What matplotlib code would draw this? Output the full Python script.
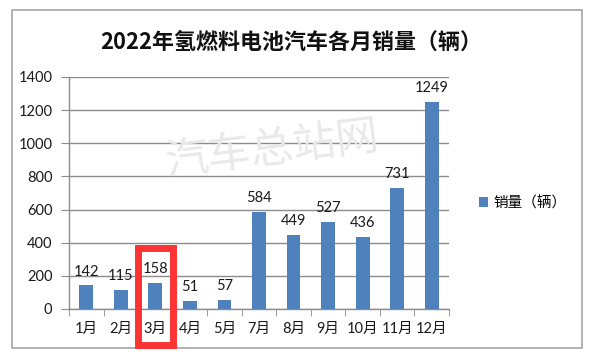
import matplotlib
matplotlib.use("Agg")
import matplotlib.pyplot as plt
from matplotlib.patches import Rectangle
import matplotlib.transforms as mtransforms

plt.rcParams['font.family'] = ['Lato', 'Noto Sans CJK SC', 'DejaVu Sans']

months = ["1月", "2月", "3月", "4月", "5月", "7月", "8月", "9月", "10月", "11月", "12月"]
sales = [142, 115, 158, 51, 57, 584, 449, 527, 436, 731, 1249]
yticks = [0, 200, 400, 600, 800, 1000, 1200, 1400]
title = "2022年氢燃料电池汽车各月销量（辆）"
series_name = "销量（辆）"
highlight = "3月"
watermark = "汽车总站网"

W, H = 600, 360
fig = plt.figure(figsize=(6, 3.6), dpi=100)
fig.patch.set_facecolor("white")

# outer border
fig.add_artist(Rectangle((12 / W, 1 - 348 / H), (582 - 12) / W, (348 - 10) / H,
                         transform=fig.transFigure, fill=False,
                         edgecolor="#a6a6a6", linewidth=1.2, zorder=0))

ax = fig.add_axes([69 / W, 1 - 309 / H, (449 - 69) / W, (309 - 77) / H])
x = list(range(len(months)))
bar_color = "#4f81bd"
bars = ax.bar(x, sales, width=0.4, color=bar_color, zorder=3, label=series_name)

ax.set_xlim(-0.5, len(months) - 0.5)
ax.set_ylim(0, 1400)
ax.set_yticks(yticks)
ax.set_yticklabels([str(v) for v in yticks], fontsize=10.5, color="#1a1a1a")
ax.yaxis.grid(True, color="#8c8c8c", linewidth=1.0, zorder=0)
ax.set_axisbelow(True)

ax.set_xticks(x)
ax.set_xticklabels(months, fontsize=10.5, color="#1a1a1a")
ax.tick_params(axis='x', length=0, pad=9)
ax.set_xticks([i - 0.5 for i in range(len(months) + 1)], minor=True)
ax.tick_params(axis='x', which='minor', length=5, color="#8c8c8c", direction='out')
ax.tick_params(axis='y', length=6, color="#8c8c8c", pad=6)

for s in ["top", "right"]:
    ax.spines[s].set_visible(False)
for s in ["left", "bottom"]:
    ax.spines[s].set_color("#8c8c8c")
    ax.spines[s].set_linewidth(1.0)

for xi, v in zip(x, sales):
    ax.annotate(str(v), (xi, v), xytext=(0, 5), textcoords="offset points",
                ha="center", va="bottom", fontsize=10.5, color="#1a1a1a", zorder=4)

# title
fig.text(0.5 * (104 + 479) / W, 1 - 42 / H, title, ha="center", va="center",
         fontsize=15.8, fontweight="bold", family=['Noto Sans CJK SC', 'DejaVu Sans'],
         color="#111111")

# watermark
fig.text(272 / W, 1 - 150 / H, watermark, ha="center", va="center", rotation=7,
         fontsize=31, color="#e9e9e9", fontweight="light",
         family=['Noto Sans CJK SC'], zorder=1)

# legend
leg = fig.legend(handles=[bars], labels=[series_name], loc="center left",
                 bbox_to_anchor=(466 / W, 1 - 203 / H), frameon=False,
                 handlelength=0.6, handleheight=0.6,
                 handletextpad=0.4, prop={'family': ['Noto Sans CJK SC'], 'size': 10.5})

# highlight rectangle around 3月
hi = months.index(highlight)
trans = mtransforms.blended_transform_factory(ax.transData, fig.transFigure)
y0 = 1 - 345 / H
y1 = 1 - 248 / H
fig.add_artist(Rectangle((hi - 0.5, y0), 1.0, y1 - y0, transform=trans,
                         fill=False, edgecolor="#ff3333", linewidth=5, zorder=10))

fig.savefig("out.png", dpi=100)
